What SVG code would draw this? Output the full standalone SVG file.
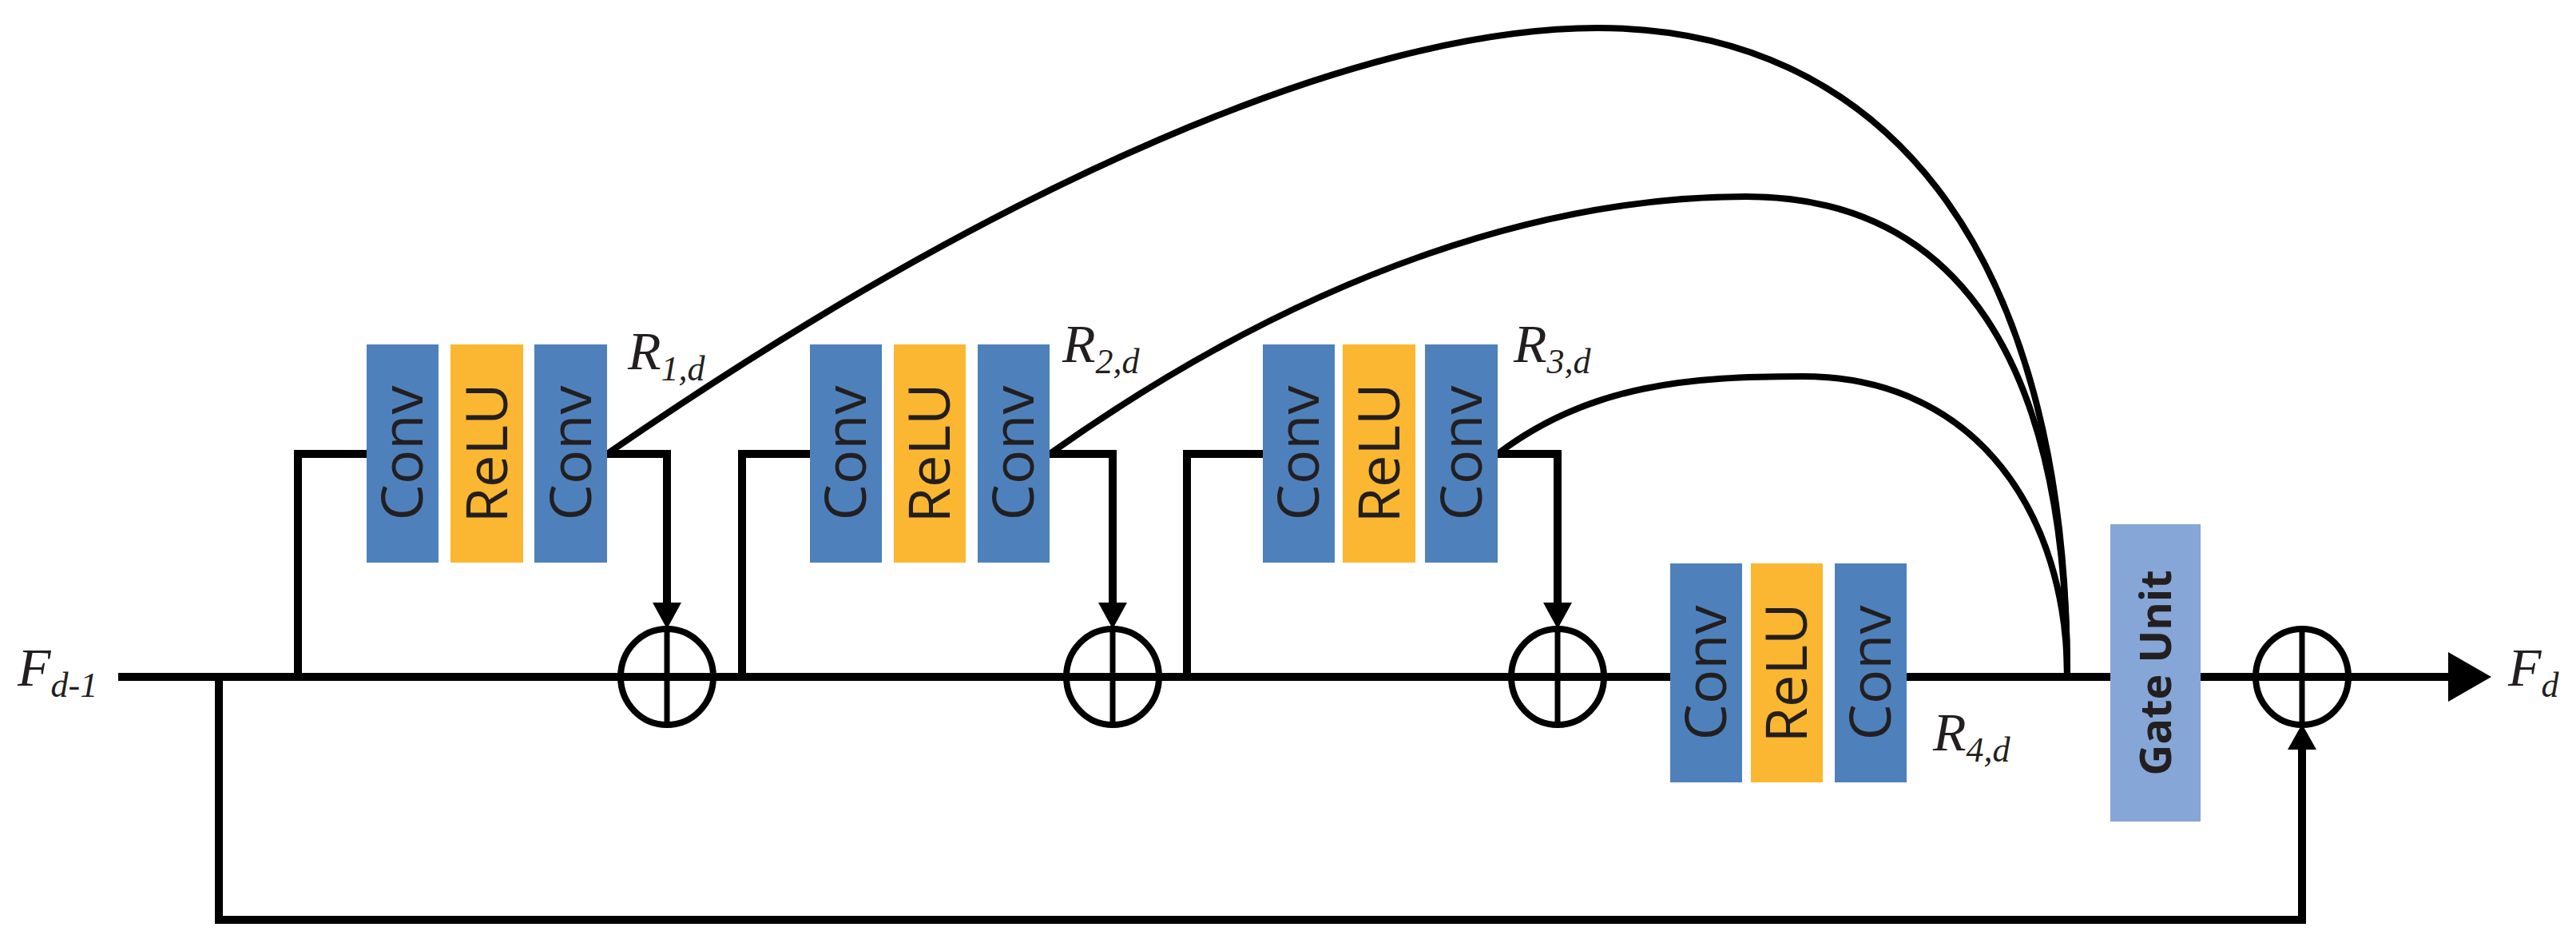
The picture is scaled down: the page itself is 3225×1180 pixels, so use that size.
<svg xmlns="http://www.w3.org/2000/svg" width="3225" height="1180" viewBox="0 0 3225 1180">
<style>
.conv{fill:#4E81BC}
.relu{fill:#FBB731}
.gate{fill:#85A6D6}
.bt{font-family:"Open Sans","DejaVu Sans",sans-serif;font-size:72px;fill:#231F20}
.gt{font-family:"Open Sans","DejaVu Sans",sans-serif;font-size:54px;font-weight:bold;fill:#231F20}
.ln{fill:none;stroke:#000;stroke-width:10;stroke-linejoin:miter}
.cv{fill:none;stroke:#000;stroke-width:8}
.ci{fill:none;stroke:#000;stroke-width:8}
.lb{font-family:"Liberation Serif",serif;font-style:italic;font-size:68px;fill:#231F20}
.sb{font-size:44px}
</style>
<defs>
<g id="plus"><ellipse cx="0" cy="0" rx="58" ry="60" class="ci"/><line x1="0" y1="-60" x2="0" y2="60" stroke="#000" stroke-width="7"/></g>
</defs>
<g id="connectors">
<path class="ln" d="M148,847 H2091"/>
<path class="ln" d="M2387,847 H2642"/>
<path class="ln" d="M2755,847 H3070"/>
<polygon points="3065,816 3119,847 3065,878" fill="#000"/>
<path class="ln" d="M274,847 V1151 H2882 V935"/>
<polygon points="2864,938 2882,906 2900,938" fill="#000"/>
<path class="ln" d="M373,847 V568 H459"/>
<path class="ln" d="M760,568 H835 V760"/>
<polygon points="817,754 835,787 853,754" fill="#000"/>
<path class="ln" d="M929,847 V568 H1014"/>
<path class="ln" d="M1314,568 H1393 V760"/>
<polygon points="1375,754 1393,787 1411,754" fill="#000"/>
<path class="ln" d="M1486,847 V568 H1581"/>
<path class="ln" d="M1875,568 H1950 V760"/>
<polygon points="1932,754 1950,787 1968,754" fill="#000"/>
<path class="cv" d="M760,568 C1250,230 1700,35 2000,35 C2350,35 2588,300 2588,846"/>
<path class="cv" d="M1314,568 C1650,330 1950,246 2186,246 C2450,246 2588,450 2588,846"/>
<path class="cv" d="M1875,568 C1990,480 2120,471 2256,471 C2480,471 2588,650 2588,846"/>
</g>
<g id="add1"><use href="#plus" x="835" y="847"/></g>
<g id="add2"><use href="#plus" x="1393" y="847"/></g>
<g id="add3"><use href="#plus" x="1950" y="847"/></g>
<g id="add4"><use href="#plus" x="2882" y="847"/></g>
<g id="block1">
<rect class="conv" x="459" y="431" width="90" height="273"/>
<rect class="relu" x="564" y="431" width="91" height="273"/>
<rect class="conv" x="669" y="431" width="91" height="273"/>
<text class="bt" transform="translate(529,567) rotate(-90)" text-anchor="middle">Conv</text>
<text class="bt" transform="translate(635,567) rotate(-90)" text-anchor="middle">ReLU</text>
<text class="bt" transform="translate(740,567) rotate(-90)" text-anchor="middle">Conv</text>
</g>
<g id="block2">
<rect class="conv" x="1014" y="431" width="90" height="273"/>
<rect class="relu" x="1119" y="431" width="90" height="273"/>
<rect class="conv" x="1224" y="431" width="90" height="273"/>
<text class="bt" transform="translate(1084,567) rotate(-90)" text-anchor="middle">Conv</text>
<text class="bt" transform="translate(1189,567) rotate(-90)" text-anchor="middle">ReLU</text>
<text class="bt" transform="translate(1294,567) rotate(-90)" text-anchor="middle">Conv</text>
</g>
<g id="block3">
<rect class="conv" x="1581" y="431" width="90" height="273"/>
<rect class="relu" x="1681" y="431" width="91" height="273"/>
<rect class="conv" x="1784" y="431" width="91" height="273"/>
<text class="bt" transform="translate(1651,567) rotate(-90)" text-anchor="middle">Conv</text>
<text class="bt" transform="translate(1752,567) rotate(-90)" text-anchor="middle">ReLU</text>
<text class="bt" transform="translate(1855,567) rotate(-90)" text-anchor="middle">Conv</text>
</g>
<g id="block4">
<rect class="conv" x="2091" y="705" width="90" height="274"/>
<rect class="relu" x="2192" y="705" width="90" height="274"/>
<rect class="conv" x="2297" y="705" width="90" height="274"/>
<text class="bt" transform="translate(2161,842) rotate(-90)" text-anchor="middle">Conv</text>
<text class="bt" transform="translate(2262,842) rotate(-90)" text-anchor="middle">ReLU</text>
<text class="bt" transform="translate(2367,842) rotate(-90)" text-anchor="middle">Conv</text>
</g>
<g id="gate">
<rect class="gate" x="2642" y="656" width="113" height="372"/>
<text class="gt" transform="translate(2718,842) rotate(-90)" text-anchor="middle">Gate Unit</text>
</g>
<g id="labels">
<text class="lb" x="22" y="858">F<tspan class="sb" dy="14">d-1</tspan></text>
<text class="lb" x="786" y="462">R<tspan class="sb" dy="14">1,d</tspan></text>
<text class="lb" x="1330" y="453">R<tspan class="sb" dy="14">2,d</tspan></text>
<text class="lb" x="1895" y="453">R<tspan class="sb" dy="14">3,d</tspan></text>
<text class="lb" x="2420" y="939">R<tspan class="sb" dy="14">4,d</tspan></text>
<text class="lb" x="3140" y="858">F<tspan class="sb" dy="14">d</tspan></text>
</g>
</svg>
